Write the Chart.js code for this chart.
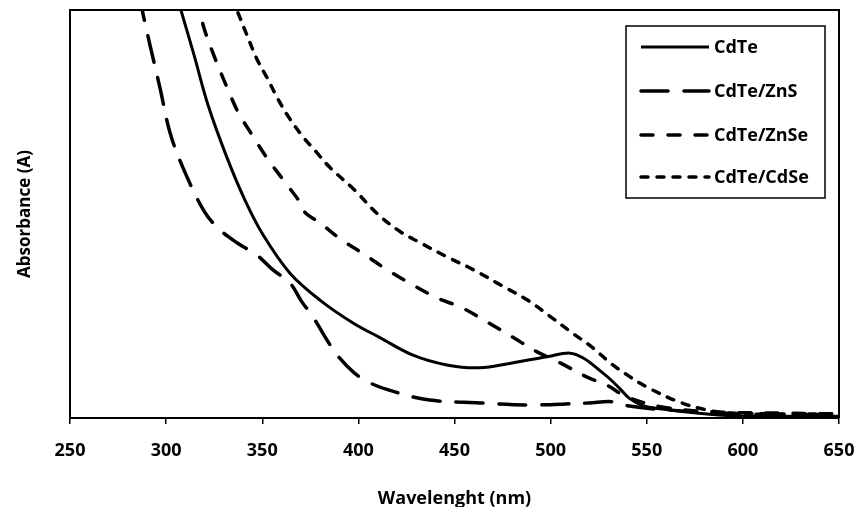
<!DOCTYPE html>
<html>
<head>
<meta charset="utf-8">
<script src="https://cdn.jsdelivr.net/npm/chart.js@4"></script>
<style>
  body { margin: 0; background: #fff; }
</style>
</head>
<body>
<canvas id="absChart" width="858" height="507"></canvas>
<script>
// x axis ticks
const xTicks = [250, 300, 350, 400, 450, 500, 550, 600, 650];

// CdTe
const cdteNm = [305.7, 307.7, 314.5, 321.8, 331.1, 341, 350.4, 364.4, 380, 397.2, 411.2, 428.4, 446, 463, 480, 498, 510, 517, 526, 531, 536, 541, 548, 558, 576, 595, 620, 650];
const cdteAbs = [1.037, 1.0, 0.890, 0.767, 0.645, 0.534, 0.449, 0.355, 0.289, 0.233, 0.197, 0.154, 0.130, 0.123, 0.135, 0.150, 0.159, 0.147, 0.115, 0.095, 0.072, 0.048, 0.030, 0.022, 0.012, 0.005, 0.004, 0.004];

// CdTe/ZnS
const znsNm = [286, 288, 291.6, 296.8, 302, 308.8, 320, 328, 337, 347, 355.6, 364.4, 370.7, 376.4, 383.7, 389, 398, 406, 419, 437, 463, 489, 506, 520, 532, 540, 560, 600, 650];
const znsAbs = [1.04, 0.99, 0.914, 0.809, 0.70, 0.613, 0.505, 0.461, 0.429, 0.40, 0.363, 0.331, 0.284, 0.248, 0.191, 0.154, 0.110, 0.086, 0.064, 0.044, 0.037, 0.032, 0.034, 0.037, 0.040, 0.030, 0.020, 0.010, 0.008];

// CdTe/ZnSe
const znseNm = [315.6, 317.6, 320, 325.4, 331.6, 337.4, 344.7, 352.5, 361.8, 369.6, 372, 380, 391.5, 403.4, 415, 428.4, 441, 454, 467, 480, 493, 505, 519, 529, 540, 558, 584, 620, 650];
const znseAbs = [1.031, 0.995, 0.951, 0.882, 0.811, 0.75, 0.694, 0.637, 0.578, 0.529, 0.505, 0.478, 0.436, 0.40, 0.363, 0.326, 0.294, 0.270, 0.235, 0.199, 0.162, 0.135, 0.100, 0.081, 0.051, 0.027, 0.015, 0.012, 0.010];

// CdTe/CdSe
const cdseNm = [334.5, 337.4, 342, 347, 352.5, 357.7, 363.4, 370.7, 378.5, 385, 398, 410, 422, 432, 446, 460, 474, 488, 500, 512, 522, 531, 540, 550, 567, 581, 593, 620, 650];
const cdseAbs = [1.03, 0.993, 0.939, 0.882, 0.834, 0.786, 0.740, 0.692, 0.650, 0.615, 0.559, 0.500, 0.456, 0.430, 0.395, 0.363, 0.326, 0.289, 0.248, 0.206, 0.172, 0.135, 0.105, 0.076, 0.039, 0.020, 0.012, 0.010, 0.010];

const seriesNames = ['CdTe', 'CdTe/ZnS', 'CdTe/ZnSe', 'CdTe/CdSe'];

const FONT = { family: "'Open Sans', sans-serif", size: 18, weight: 'bold' };

function toPoints(xs, ys) {
    return xs.map((x, i) => ({ x: x, y: ys[i] }));
}

function makeSet(label, xs, ys, dash, width) {
    return {
        label: label,
        data: toPoints(xs, ys),
        borderColor: '#000',
        borderWidth: width,
        borderDash: dash,
        borderCapStyle: dash.length ? 'round' : 'butt',
        pointRadius: 0,
        fill: false,
        tension: 0.35
    };
}

// closes the plot box and draws the boxed legend
const framePlugin = {
    id: 'frame',
    afterDraw(chart) {
        const ctx = chart.ctx;
        const a = chart.chartArea;
        ctx.save();
        ctx.strokeStyle = '#000';
        ctx.lineWidth = 2;
        ctx.beginPath();
        ctx.moveTo(a.left, a.top);
        ctx.lineTo(a.right, a.top);
        ctx.lineTo(a.right, a.bottom);
        ctx.stroke();

        // legend box
        ctx.lineWidth = 1.5;
        ctx.fillStyle = '#fff';
        ctx.fillRect(626, 26, 199, 172);
        ctx.strokeRect(626, 26, 199, 172);
        const rows = [47, 91, 135, 177];
        ctx.font = 'bold 18px "Open Sans", sans-serif';
        ctx.textBaseline = 'middle';
        chart.data.datasets.forEach((ds, i) => {
            ctx.save();
            ctx.lineWidth = ds.borderWidth;
            ctx.lineCap = ds.borderCapStyle;
            ctx.setLineDash(ds.borderDash);
            ctx.beginPath();
            ctx.moveTo(641, rows[i]);
            ctx.lineTo(709, rows[i]);
            ctx.stroke();
            ctx.restore();
            ctx.fillStyle = '#000';
            ctx.fillText(ds.label, 714, rows[i] + 1);
        });
        ctx.restore();
    }
};

new Chart(document.getElementById('absChart').getContext('2d'), {
    type: 'line',
    data: {
        datasets: [
            makeSet(seriesNames[0], cdteNm, cdteAbs, [], 3),
            makeSet(seriesNames[1], znsNm, znsAbs, [27, 16], 3.5),
            makeSet(seriesNames[2], znseNm, znseAbs, [12, 15], 3.5),
            makeSet(seriesNames[3], cdseNm, cdseAbs, [7, 9], 3.5)
        ]
    },
    options: {
        responsive: false,
        animation: false,
        devicePixelRatio: 1,
        layout: { padding: { top: 10, right: 19, left: 0, bottom: 0 } },
        plugins: {
            legend: { display: false },
            tooltip: { enabled: false }
        },
        scales: {
            x: {
                type: 'linear',
                min: 250,
                max: 650,
                afterBuildTicks: function(scale) {
                    scale.ticks = xTicks.map(v => ({ value: v }));
                },
                afterFit: function(scale) {
                    scale.height = 89;
                    scale.paddingLeft = 0;
                    scale.paddingRight = 0;
                },
                ticks: { font: FONT, color: '#000', padding: 16, maxRotation: 0 },
                grid: { drawOnChartArea: false, drawTicks: true, tickLength: 6, color: '#000', lineWidth: 1.5 },
                border: { display: true, color: '#000', width: 2 },
                title: { display: true, text: 'Wavelenght (nm)', font: FONT, color: '#000', padding: { top: 0, bottom: -3 } }
            },
            y: {
                min: 0,
                max: 1,
                afterFit: function(scale) { scale.width = 70; },
                ticks: { display: false },
                grid: { display: false },
                border: { display: true, color: '#000', width: 2 },
                title: { display: true, text: 'Absorbance (A)', font: Object.assign({}, FONT, { size: 17 }), color: '#000', padding: { top: 15, bottom: 0 } }
            }
        }
    },
    plugins: [framePlugin]
});
</script>
</body>
</html>
